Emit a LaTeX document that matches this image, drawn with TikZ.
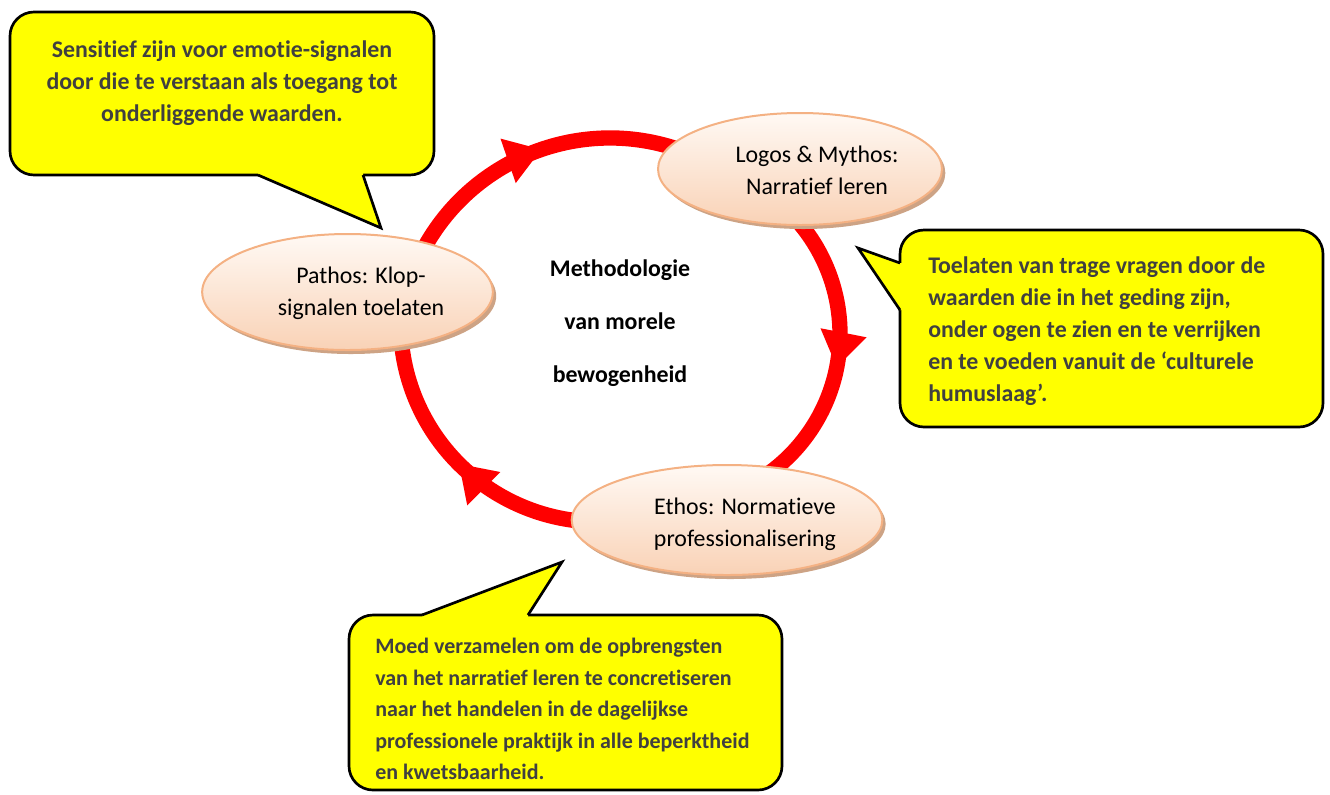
\documentclass[tikz,border=0pt]{standalone}
\usepackage{fontspec}
\setmainfont{Carlito}[Ligatures=NoCommon]
\usetikzlibrary{calc,decorations.markings,shadows,shapes.geometric}
\definecolor{ringred}{HTML}{FF0000}
\definecolor{callyellow}{HTML}{FFFF00}
\definecolor{calltext}{HTML}{404040}
\definecolor{ellborder}{HTML}{F4B183}
\definecolor{elltop}{HTML}{FFF9F4}
\definecolor{ellbot}{HTML}{F9D2B6}
\definecolor{ellshadow}{HTML}{CDA385}
\begin{document}
\begin{tikzpicture}[x=0.75pt,y=-0.75pt,
  ring/.style={draw=ringred,line width=11.5pt},
  arrowmark/.style={postaction={decorate},decoration={markings,
     mark=at position #1 with {\fill[ringred] (0,0) -- (-35,23.5) -- (-35,-23.5) -- cycle;}}},
  ell/.style={ellipse,draw=ellborder,line width=1.5pt,top color=elltop,bottom color=ellbot,
     inner sep=0pt,drop shadow={shadow xshift=2.5pt,shadow yshift=-3pt,fill=ellshadow,opacity=1}},
  elltext/.style={align=center,font=\fontsize{17.9}{24}\selectfont,text=black,inner sep=0pt},
  callbox/.style={rectangle,rounded corners=18pt,draw=black,line width=2pt,fill=callyellow,inner sep=0pt},
  callline/.style={draw=black,line width=2pt,line join=miter},
  calltxt/.style={font=\fontsize{17.9}{24}\selectfont\bfseries,text=calltext,inner sep=0pt},
  centertxt/.style={align=center,font=\fontsize{17.9}{40}\selectfont\bfseries,text=black,inner sep=0pt}
]
\useasboundingbox (0,0) rectangle (1330,794);

% ring centres
\coordinate (c1) at (610,350);
\coordinate (c2) at (668,334);
\coordinate (c3) at (599.5,323);

% ring arcs
\draw[ring,arrowmark=0.542] ($(c1)+(205:212)$) coordinate (a1s) arc[start angle=205,end angle=290,radius=212];
\draw[ring,arrowmark=0.561] ($(c2)+(315:172)$) coordinate (a2s) arc[start angle=315,end angle=415,radius=172];
\draw[ring,arrowmark=0.499] ($(c3)+(85:199)$) coordinate (a3s) arc[start angle=85,end angle=185,radius=199];

% ellipses
\node[ell,minimum width=218pt,minimum height=87pt] (pathos) at (347.5,292) {};
\node[ell,minimum width=213pt,minimum height=84pt] (logos) at (800,169) {};
\node[ell,minimum width=233pt,minimum height=82.5pt] (ethos) at (727,520) {};
\node[elltext] (pathost) at (361,293) {Pathos: Klop-\\signalen toelaten};
\node[elltext] (logost) at (817,170) {Logos \& Mythos:\\Narratief leren};
\node[elltext] (ethost) at (745,524) {Ethos: Normatieve\\professionalisering};

% centre text
\node[centertxt] (centre) at (620,323) {Methodologie\\van morele\\bewogenheid};

% callout 1
\node[callbox,minimum width=318pt,minimum height=122.25pt] (box1) at (222,93.5) {};
\coordinate (p1a) at (258,175);
\coordinate (p1b) at (363,175);
\coordinate (p1tip) at (381,228);
\fill[callyellow] (p1a) -- (p1tip) -- (p1b) -- ($(p1b)+(0,-4)$) -- ($(p1a)+(0,-4)$) -- cycle;
\draw[callline] (p1a) -- (p1tip) -- (p1b);
\node[calltxt,align=center] (t1) at (222,83.5) {Sensitief zijn voor emotie-signalen\\door die te verstaan als toegang tot\\onderliggende waarden.};

% callout 2
\node[callbox,minimum width=317.25pt,minimum height=147.75pt] (box2) at (1111.5,328.5) {};
\coordinate (p2a) at (900,263);
\coordinate (p2b) at (900,310);
\coordinate (p2tip) at (858,248);
\fill[callyellow] (p2a) -- (p2tip) -- (p2b) -- ($(p2b)+(4,0)$) -- ($(p2a)+(4,0)$) -- cycle;
\draw[callline] (p2a) -- (p2tip) -- (p2b);
\node[calltxt,align=left,anchor=west] (t2) at (928,331) {Toelaten van trage vragen door de\\waarden die in het geding zijn,\\onder ogen te zien en te verrijken\\en te voeden vanuit de ‘culturele\\humuslaag’.};

% callout 3
\node[callbox,minimum width=324.75pt,minimum height=131.25pt] (box3) at (565.5,702.5) {};
\coordinate (p3a) at (422,615);
\coordinate (p3b) at (528,615);
\coordinate (p3tip) at (562,562);
\fill[callyellow] (p3a) -- (p3tip) -- (p3b) -- ($(p3b)+(0,4)$) -- ($(p3a)+(0,4)$) -- cycle;
\draw[callline] (p3a) -- (p3tip) -- (p3b);
\node[calltxt,align=left,anchor=west,font=\fontsize{16.5}{23.6}\selectfont\bfseries] (t3) at (375,709) {Moed verzamelen om de opbrengsten\\van het narratief leren te concretiseren\\naar het handelen in de dagelijkse\\professionele praktijk in alle beperktheid\\en kwetsbaarheid.};
\end{tikzpicture}
\end{document}
